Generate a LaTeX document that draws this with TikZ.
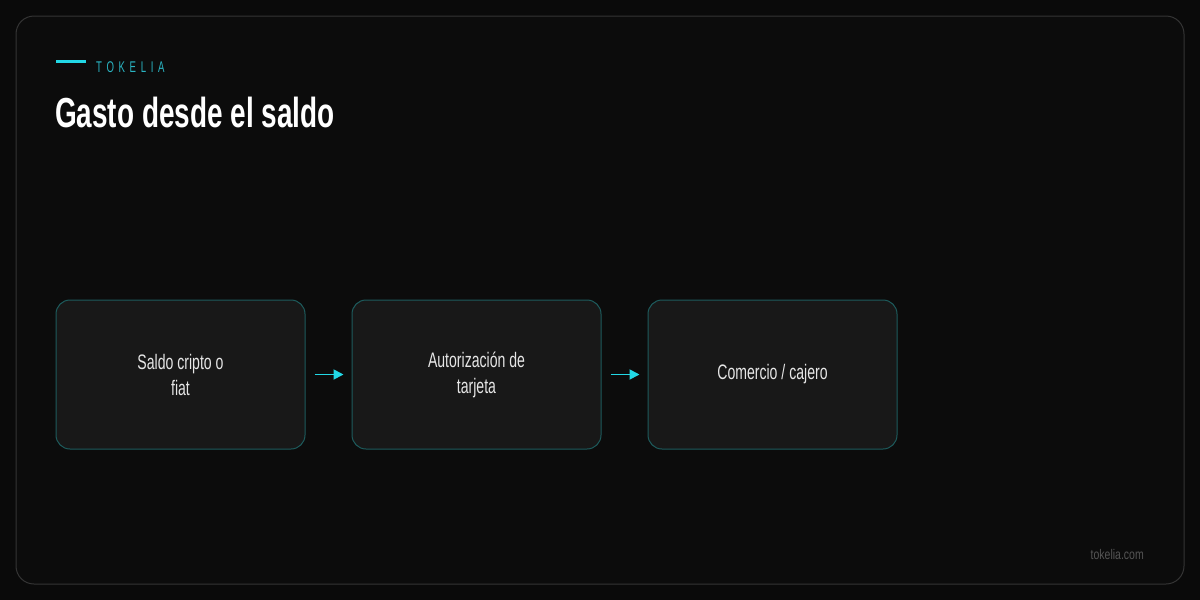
\documentclass[tikz,border=0pt]{standalone}
\usepackage{fontspec}
\setmainfont{Liberation Sans}[FakeStretch=0.67]
\newfontfamily\titlefont{Liberation Sans}[FakeStretch=0.665]
\newfontfamily\labelfont{Liberation Sans}[FakeStretch=0.62, LetterSpace=30]
\newfontfamily\footfont{Liberation Sans}[FakeStretch=0.75]
\usepackage{xcolor}
\usetikzlibrary{arrows.meta, positioning}

\definecolor{bgdark}{HTML}{0A0A0A}
\definecolor{framedark}{HTML}{0C0C0C}
\definecolor{framegray}{HTML}{343434}
\definecolor{boxfill}{HTML}{181818}
\definecolor{boxline}{HTML}{1D5B5C}
\definecolor{accent}{HTML}{22D8E6}
\definecolor{accentdim}{HTML}{2AB4C2}
\definecolor{textlight}{HTML}{E6E6E6}
\definecolor{footgray}{HTML}{555555}

\begin{document}
\begin{tikzpicture}[
        x=1pt, y=1pt,
        node distance=46pt,
        stepbox/.style={rectangle, draw=boxline, fill=boxfill, rounded corners=14pt, line width=1pt,
            minimum width=249pt, minimum height=149pt, align=center, text=textlight,
            font=\fontsize{21}{26}\selectfont},
        arrow/.style={-{Triangle[length=10pt, width=10pt]}, accent, line width=1.8pt, shorten <=9pt, shorten >=8pt}
    ]
    % page and frame
    \fill[bgdark] (0,0) rectangle (1200,-600);
    \useasboundingbox (0,0) rectangle (1200,-600);
    \draw[framegray, fill=framedark, line width=1pt, rounded corners=18pt] (16,-16) rectangle (1184,-584);
    % header
    \coordinate (bar_start) at (56,-61.5);
    \coordinate (bar_end) at (86,-61.5);
    \draw[accent, line width=3pt] (bar_start) -- (bar_end);
    \node[anchor=base west, inner sep=0pt, text=accentdim, font=\labelfont\fontsize{15.5}{15.5}\selectfont] (brand) at (96,-72) {TOKELIA};
    \node[anchor=base west, inner sep=0pt, text=white, font=\titlefont\bfseries\fontsize{42}{42}\selectfont] (title) at (55,-127) {Gasto desde el saldo};
    % flow
    \node[stepbox] (balance) at (180.5,-374.5) {Saldo cripto o\\fiat};
    \node[stepbox, right=of balance] (authorization) {Autorización de\\tarjeta};
    \node[stepbox, right=of authorization] (merchant) {Comercio / cajero};
    \draw[arrow] (balance) -- (authorization);
    \draw[arrow] (authorization) -- (merchant);
    % footer
    \node[anchor=base east, inner sep=0pt, text=footgray, font=\footfont\fontsize{14}{14}\selectfont] (site) at (1144,-559) {tokelia.com};
\end{tikzpicture}
\end{document}
